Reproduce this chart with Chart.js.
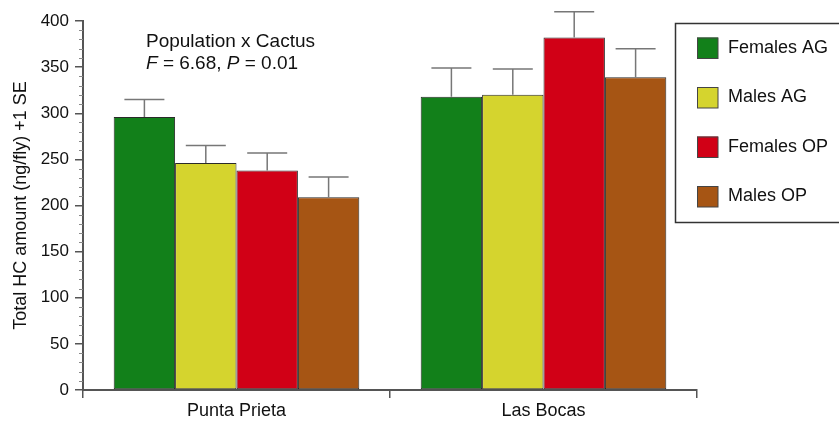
<!DOCTYPE html>
<html lang="en">
<head>
    <meta charset="UTF-8">
    <title>Total HC amount</title>
    <script src="https://cdnjs.cloudflare.com/ajax/libs/Chart.js/4.4.8/chart.umd.min.js"></script>
    <style>
        html, body { margin: 0; padding: 0; background: #fff; }
        #wrap { width: 839px; height: 421px; position: relative; }
    </style>
</head>
<body>
    <div id="wrap"><canvas id="chart" width="839" height="421"></canvas></div>

    <script>
        // data
        const categories = ['Punta Prieta', 'Las Bocas'];
        const seriesNames = ['Females AG', 'Males AG', 'Females OP', 'Males OP'];
        const femalesAG = [296, 318];
        const malesAG = [246, 320];
        const femalesOP = [238, 382];
        const malesOP = [209, 339];
        const femalesAG_se = [19, 31];
        const malesAG_se = [19, 28];
        const femalesOP_se = [19, 28];
        const malesOP_se = [22, 31];
        const yTicks = [0, 50, 100, 150, 200, 250, 300, 350, 400];

        const colors = ['#12801a', '#d5d42e', '#d10016', '#a65514'];
        const FONT = '"Liberation Sans", Arial, Helvetica, sans-serif';

        const values = [femalesAG, malesAG, femalesOP, malesOP];
        const errors = [femalesAG_se, malesAG_se, femalesOP_se, malesOP_se];

        const datasets = seriesNames.map(function (name, i) {
            return {
                label: name,
                data: values[i],
                se: errors[i],
                backgroundColor: colors[i],
                borderColor: '#2a2a2a',
                borderWidth: 1,
                borderSkipped: false,
                categoryPercentage: 0.8,
                barPercentage: 1.0
            };
        });

        // error bars, minor ticks, annotation and legend box
        const extras = {
            id: 'extras',
            afterDatasetsDraw(chart) {
                const ctx = chart.ctx;
                const y = chart.scales.y;
                ctx.save();
                ctx.strokeStyle = '#777';
                ctx.lineWidth = 1.5;
                chart.data.datasets.forEach(function (ds, i) {
                    const meta = chart.getDatasetMeta(i);
                    meta.data.forEach(function (bar, j) {
                        const top = y.getPixelForValue(ds.data[j] + ds.se[j]);
                        const base = y.getPixelForValue(ds.data[j]);
                        ctx.beginPath();
                        ctx.moveTo(bar.x, base);
                        ctx.lineTo(bar.x, top);
                        ctx.moveTo(bar.x - 20, top);
                        ctx.lineTo(bar.x + 20, top);
                        ctx.stroke();
                    });
                });
                ctx.restore();
            },
            afterDraw(chart) {
                const ctx = chart.ctx;
                const y = chart.scales.y;
                const left = chart.chartArea.left;
                ctx.save();
                // minor ticks every 10
                ctx.strokeStyle = '#888';
                ctx.lineWidth = 1;
                for (let v = 10; v < 400; v += 10) {
                    if (v % 50 === 0) continue;
                    const py = Math.round(y.getPixelForValue(v)) + 0.5;
                    ctx.beginPath();
                    ctx.moveTo(left - 4, py);
                    ctx.lineTo(left, py);
                    ctx.stroke();
                }

                // annotation
                ctx.fillStyle = '#111';
                ctx.textBaseline = 'middle';
                ctx.textAlign = 'left';
                ctx.font = '19px ' + FONT;
                ctx.fillText('Population x Cactus', 146, 42);
                let x = 146;
                const parts = [['F', true], [' = 6.68, ', false], ['P', true], [' = 0.01', false]];
                parts.forEach(function (p) {
                    ctx.font = (p[1] ? 'italic ' : '') + '19px ' + FONT;
                    ctx.fillText(p[0], x, 64);
                    x += ctx.measureText(p[0]).width;
                });

                // legend box
                ctx.strokeStyle = '#333';
                ctx.lineWidth = 1.5;
                ctx.strokeRect(675.5, 23.5, 180, 199);
                ctx.font = '18px ' + FONT;
                chart.data.datasets.forEach(function (ds, i) {
                    const cy = 48 + i * 49.5;
                    ctx.fillStyle = ds.backgroundColor;
                    ctx.fillRect(697, cy - 10.5, 21, 21);
                    ctx.strokeStyle = '#444';
                    ctx.lineWidth = 1;
                    ctx.strokeRect(697.5, cy - 10, 20.5, 20.5);
                    ctx.fillStyle = '#111';
                    ctx.fillText(ds.label, 728, cy);
                });
                ctx.restore();
            }
        };

        new Chart(document.getElementById('chart'), {
            type: 'bar',
            data: { labels: categories, datasets: datasets },
            options: {
                responsive: false,
                animation: false,
                layout: { padding: { top: 21, right: 142, left: 0, bottom: 0 } },
                plugins: {
                    legend: { display: false },
                    tooltip: { enabled: false }
                },
                scales: {
                    x: {
                        offset: true,
                        grid: {
                            offset: true,
                            drawOnChartArea: false,
                            drawTicks: true,
                            tickLength: 8,
                            color: '#555',
                            lineWidth: 1.5
                        },
                        border: { color: '#555', width: 2 },
                        ticks: { color: '#111', font: { family: FONT, size: 18 }, padding: 2 },
                        afterFit(scale) { scale.height = 31; }
                    },
                    y: {
                        min: 0,
                        max: 400,
                        afterBuildTicks(scale) {
                            scale.ticks = yTicks.map(function (v) { return { value: v }; });
                        },
                        grid: {
                            drawOnChartArea: false,
                            drawTicks: true,
                            tickLength: 8,
                            color: '#555',
                            lineWidth: 1.5
                        },
                        border: { color: '#555', width: 2 },
                        ticks: { color: '#111', font: { family: FONT, size: 17 }, padding: 6 },
                        title: {
                            display: true,
                            text: 'Total HC amount (ng/fly) +1 SE',
                            color: '#111',
                            font: { family: FONT, size: 18 },
                            padding: { top: 10, bottom: 4 }
                        },
                        afterFit(scale) { scale.width = 83; }
                    }
                }
            },
            plugins: [extras]
        });
    </script>
</body>
</html>
